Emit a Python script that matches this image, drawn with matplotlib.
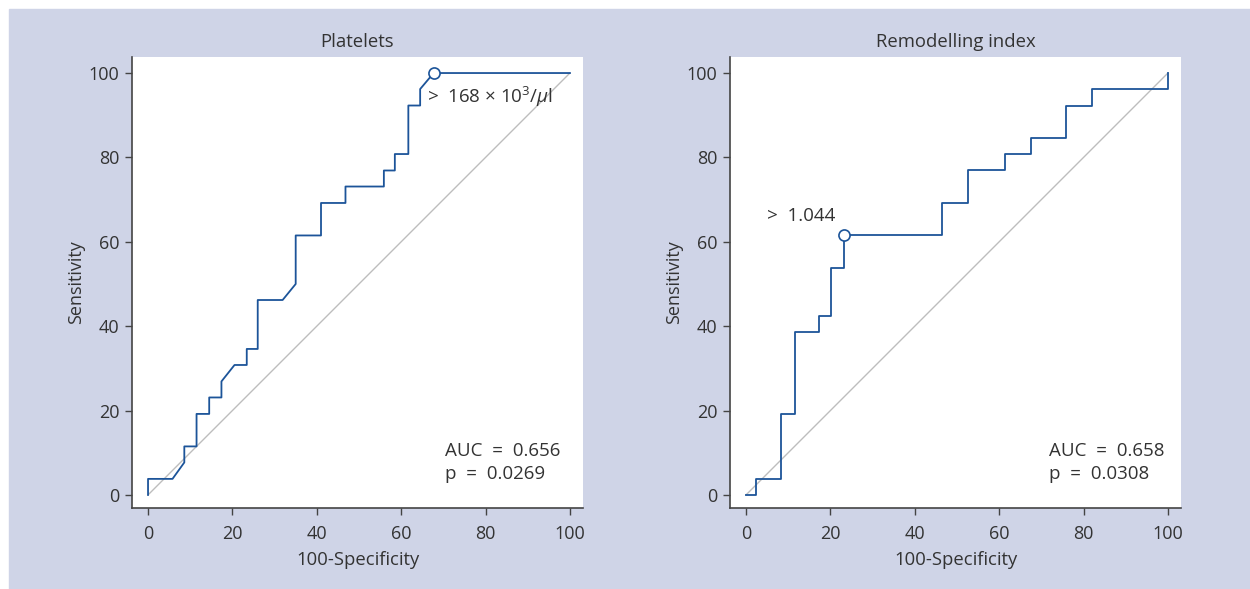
import matplotlib
matplotlib.use("Agg")
import matplotlib.pyplot as plt
from matplotlib.patches import Rectangle

plt.rcParams["font.family"] = ["Open Sans", "DejaVu Sans"]
plt.rcParams["mathtext.fontset"] = "custom"
plt.rcParams["mathtext.rm"] = "Open Sans"
plt.rcParams["mathtext.it"] = "Open Sans:italic"

# Platelets ROC curve (100-specificity, sensitivity)
plt_fpr = [0, 0, 5.8, 8.6, 8.6, 11.5, 11.5, 14.5, 14.5, 17.4, 17.4, 20.5, 23.4, 23.4,
           26.0, 26.0, 31.9, 35.0, 35.0, 41.0, 41.0, 46.8, 46.8, 55.9, 55.9, 58.5,
           58.5, 61.7, 61.7, 64.5, 64.5, 67.7, 100]
plt_tpr = [0, 3.8, 3.8, 7.7, 11.5, 11.5, 19.2, 19.2, 23.1, 23.1, 26.9, 30.8, 30.8, 34.6,
           34.6, 46.2, 46.2, 50.0, 61.5, 61.5, 69.2, 69.2, 73.1, 73.1, 76.9, 76.9,
           80.8, 80.8, 92.3, 92.3, 96.2, 100, 100]
plt_cut = (67.7, 100)

# Remodelling index ROC curve
rem_fpr = [0, 2.4, 2.4, 8.4, 8.4, 11.5, 11.5, 17.4, 17.4, 20.1, 20.1, 23.2, 23.2, 46.5,
           46.5, 52.6, 52.6, 61.5, 61.5, 67.5, 67.5, 75.8, 75.8, 82.0, 82.0, 100, 100]
rem_tpr = [0, 0, 3.8, 3.8, 19.2, 19.2, 38.5, 38.5, 42.3, 42.3, 53.8, 53.8, 61.5, 61.5,
           69.2, 69.2, 76.9, 76.9, 80.8, 80.8, 84.6, 84.6, 92.3, 92.3, 96.2, 96.2, 100]
rem_cut = (23.2, 61.5)

panels = [
    ("Platelets", plt_fpr, plt_tpr, plt_cut,
     r">  168 $\times$ 10$^{\mathregular{3}}$/$\mu$l", (66.1, 94.3),
     ("AUC  =  0.656", "p  =  0.0269"), 70.4),
    ("Remodelling index", rem_fpr, rem_tpr, rem_cut, ">  1.044", (5.0, 66.1),
     ("AUC  =  0.658", "p  =  0.0308"), 71.8),
]

text_c = "#333333"
axis_c = "#444444"
blue = "#1c5499"

fig = plt.figure(figsize=(12.5, 5.89), dpi=100)
fig.patches.append(Rectangle((9 / 1250, 0), 1, 1 - 9 / 589, transform=fig.transFigure,
                             color="#cfd4e7", zorder=-10))

lefts = [132 / 1250, 730 / 1250]
for left, (title, fx, ty, cut, cut_lbl, cut_pos, stats, stat_x) in zip(lefts, panels):
    ax = fig.add_axes([left, 1 - 508 / 589, 451 / 1250, 451 / 589])
    ax.set_facecolor("white")
    ax.plot([0, 100], [0, 100], color="#bdbdbd", lw=1.0, zorder=1)
    ax.plot(fx, ty, color=blue, lw=1.3, zorder=2)
    ax.plot(*cut, "o", ms=8, mfc="white", mec=blue, mew=1.2, zorder=3)
    ax.text(*cut_pos, cut_lbl, fontsize=13.5, color=text_c, va="center", ha="left")
    ax.text(stat_x, 10.4, stats[0], fontsize=13.5, color=text_c, va="center")
    ax.text(stat_x, 4.9, stats[1], fontsize=13.5, color=text_c, va="center")

    ax.set_xlim(-3.8, 103.1)
    ax.set_ylim(-3.1, 103.8)
    ax.set_xticks(range(0, 101, 20))
    ax.set_yticks(range(0, 101, 20))
    for s in ("top", "right"):
        ax.spines[s].set_visible(False)
    for s in ("left", "bottom"):
        ax.spines[s].set_color(axis_c)
        ax.spines[s].set_linewidth(1.2)
    ax.tick_params(direction="out", length=5, width=1.0, color=axis_c,
                   labelcolor=text_c, labelsize=13)
    ax.tick_params(axis="x", pad=7)
    ax.tick_params(axis="y", pad=4)
    ax.set_title(title, fontsize=13.3, color=text_c, pad=7)
    ax.set_xlabel("100-Specificity", fontsize=13.3, color=text_c, labelpad=6)
    ax.set_ylabel("Sensitivity", fontsize=13, color=text_c, labelpad=3)

fig.savefig("out.png", dpi=100)
